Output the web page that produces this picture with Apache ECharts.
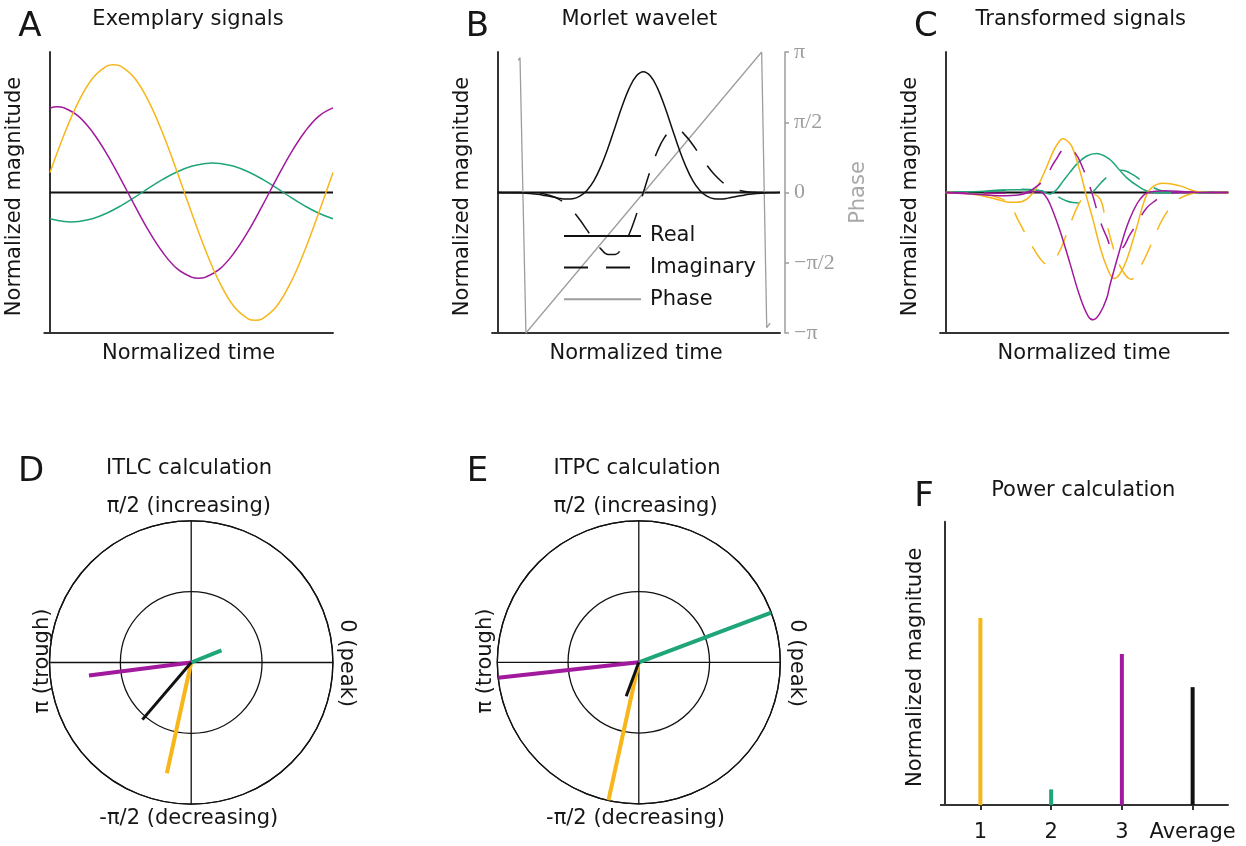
<!DOCTYPE html>
<html>
<head>
<meta charset="utf-8">
<script src="https://cdn.jsdelivr.net/npm/echarts@6/dist/echarts.min.js"></script>
<style>
  html, body { margin: 0; padding: 0; background: #ffffff; }
  #chart { width: 1246px; height: 846px; }
</style>
</head>
<body>
<div id="chart"></div>
<script>
// ---------- Panel A: exemplary signals (normalized time, normalized magnitude) ----------
const aYellow = [[0,0.142],[0.05,0.413],[0.1,0.643],[0.15,0.811],[0.2,0.899],[0.225,0.91],[0.25,0.899],[0.3,0.811],[0.35,0.643],[0.4,0.413],[0.45,0.142],[0.5,-0.142],[0.55,-0.413],[0.6,-0.643],[0.65,-0.811],[0.7,-0.899],[0.725,-0.91],[0.75,-0.899],[0.8,-0.811],[0.85,-0.643],[0.9,-0.413],[0.95,-0.142],[1,0.142]];
const aPurple = [[0,0.602],[0.025,0.61],[0.05,0.602],[0.1,0.544],[0.15,0.431],[0.2,0.277],[0.25,0.095],[0.3,-0.095],[0.35,-0.277],[0.4,-0.431],[0.45,-0.544],[0.5,-0.602],[0.525,-0.61],[0.55,-0.602],[0.6,-0.544],[0.65,-0.431],[0.7,-0.277],[0.75,-0.095],[0.8,0.095],[0.85,0.277],[0.9,0.431],[0.95,0.544],[1,0.602]];
const aGreen = [[0,-0.187],[0.05,-0.207],[0.075,-0.21],[0.1,-0.207],[0.15,-0.187],[0.2,-0.148],[0.25,-0.095],[0.3,-0.033],[0.35,0.033],[0.4,0.095],[0.45,0.148],[0.5,0.187],[0.55,0.207],[0.575,0.21],[0.6,0.207],[0.65,0.187],[0.7,0.148],[0.75,0.095],[0.8,0.033],[0.85,-0.033],[0.9,-0.095],[0.95,-0.148],[1,-0.187]];

// ---------- Panel B: Morlet wavelet ----------
const bReal = [[0,0],[0.016,-0.001],[0.041,-0.001],[0.066,-0.002],[0.091,-0.004],[0.116,-0.008],[0.141,-0.013],[0.166,-0.021],[0.191,-0.03],[0.216,-0.04],[0.241,-0.046],[0.266,-0.044],[0.291,-0.026],[0.316,0.015],[0.341,0.085],[0.366,0.188],[0.391,0.318],[0.416,0.467],[0.441,0.615],[0.466,0.743],[0.491,0.829],[0.516,0.86],[0.541,0.829],[0.566,0.743],[0.591,0.615],[0.616,0.467],[0.641,0.318],[0.666,0.188],[0.691,0.085],[0.716,0.015],[0.741,-0.026],[0.766,-0.044],[0.791,-0.046],[0.816,-0.04],[0.841,-0.03],[0.866,-0.021],[0.891,-0.013],[0.916,-0.008],[0.941,-0.004],[0.966,-0.002],[1,0]];
const bImag = [[0,0],[0.116,-0.001],[0.141,-0.004],[0.166,-0.011],[0.191,-0.025],[0.216,-0.047],[0.241,-0.082],[0.266,-0.131],[0.291,-0.194],[0.316,-0.266],[0.341,-0.34],[0.366,-0.403],[0.391,-0.442],[0.416,-0.441],[0.441,-0.392],[0.466,-0.295],[0.491,-0.159],[0.516,0],[0.541,0.159],[0.566,0.295],[0.591,0.392],[0.616,0.441],[0.641,0.442],[0.666,0.403],[0.691,0.34],[0.716,0.266],[0.741,0.194],[0.766,0.131],[0.791,0.082],[0.816,0.047],[0.841,0.025],[0.866,0.011],[0.891,0.004],[0.916,0.001],[1,0]];
// phase in units of pi
const bPhase = [[0.073,0.941],[0.079,0.96],[0.1,-1],[0.935,1],[0.953,-0.962],[0.965,-0.93]];
const phaseTickLabels = ['\u2212\u03c0', '\u2212\u03c0/2', '0', '\u03c0/2', '\u03c0'];

// ---------- Panel C: transformed signals (solid = real, dashed = imaginary) ----------
const cYellowReal = [[0,0],[0.061,-0.005],[0.121,-0.02],[0.192,-0.055],[0.228,-0.07],[0.251,-0.07],[0.287,-0.047],[0.322,0.035],[0.351,0.153],[0.381,0.294],[0.404,0.37],[0.416,0.382],[0.428,0.37],[0.446,0.33],[0.475,0.153],[0.499,-0.035],[0.522,-0.2],[0.546,-0.388],[0.57,-0.53],[0.596,-0.612],[0.616,-0.58],[0.64,-0.482],[0.676,-0.247],[0.705,-0.047],[0.729,0.035],[0.77,0.066],[0.829,0.047],[0.888,0.007],[0.95,0],[1,0]];
const cYellowImag = [[0,0],[0.121,-0.01],[0.192,-0.04],[0.228,-0.09],[0.257,-0.2],[0.281,-0.29],[0.304,-0.376],[0.334,-0.47],[0.358,-0.51],[0.38,-0.49],[0.41,-0.388],[0.434,-0.259],[0.468,-0.094],[0.494,-0.02],[0.515,-0.01],[0.546,-0.045],[0.564,-0.176],[0.588,-0.36],[0.616,-0.52],[0.656,-0.617],[0.694,-0.51],[0.729,-0.36],[0.77,-0.18],[0.817,-0.06],[0.857,-0.016],[0.9,0],[1,0]];
const cPurpleReal = [[0,0],[0.061,-0.007],[0.121,-0.015],[0.192,-0.023],[0.263,-0.016],[0.309,0.005],[0.334,0.005],[0.351,-0.02],[0.369,-0.082],[0.404,-0.27],[0.44,-0.506],[0.475,-0.741],[0.505,-0.883],[0.522,-0.906],[0.546,-0.859],[0.57,-0.75],[0.581,-0.66],[0.617,-0.4],[0.64,-0.247],[0.664,-0.13],[0.688,-0.047],[0.716,0],[0.776,0.012],[0.847,0.005],[0.9,0],[1,0]];
const cPurpleImag = [[0,0],[0.192,-0.005],[0.281,0],[0.316,0.035],[0.351,0.1],[0.387,0.224],[0.428,0.318],[0.458,0.282],[0.487,0.165],[0.517,0],[0.546,-0.2],[0.57,-0.318],[0.592,-0.4],[0.617,-0.4],[0.652,-0.3],[0.682,-0.2],[0.711,-0.11],[0.741,-0.059],[0.776,-0.015],[0.829,0],[1,0]];
const cGreenReal = [[0,0],[0.121,0.008],[0.192,0.017],[0.257,0.02],[0.309,0.017],[0.345,0.003],[0.369,-0.01],[0.392,0.02],[0.416,0.083],[0.44,0.145],[0.463,0.2],[0.499,0.26],[0.534,0.278],[0.557,0.265],[0.581,0.235],[0.593,0.212],[0.64,0.106],[0.688,0.035],[0.716,0.007],[0.75,-0.002],[0.82,0],[1,0]];
const cGreenImag = [[0,0],[0.121,0.005],[0.192,0.012],[0.274,0.024],[0.323,0.017],[0.369,0],[0.397,-0.03],[0.426,-0.059],[0.45,-0.072],[0.475,-0.075],[0.505,-0.03],[0.528,0.02],[0.55,0.07],[0.575,0.118],[0.598,0.148],[0.623,0.158],[0.664,0.125],[0.695,0.08],[0.723,0.047],[0.764,0.012],[0.811,0],[1,0]];

// horizontal reference at zero magnitude
const zeroLine = [[0,0],[1,0]];

// ---------- Panels D/E: phase vectors (order: signal 1, 2, 3, average) ----------
const itlcAngle = [257.6, 21.8, 187.2, 229.5];
const itlcLength = [0.80, 0.23, 0.727, 0.53];
const itpcAngle = [257.6, 20.6, 186.3, 249.7];
const itpcLength = [1.0, 1.0, 1.0, 0.256];

// ---------- Panel F: power ----------
const powerCategories = ['1', '2', '3', 'Average'];
const powerValues = [0.66, 0.055, 0.533, 0.416];

// ---------- styling ----------
const YELLOW = '#F7B619';
const GREEN = '#1FA57A';
const PURPLE = '#A1199C';
const BLACK = '#111111';
const vectorColors = [YELLOW, GREEN, PURPLE, BLACK];
const vectorWidths = [4, 4, 4, 3];
const FONT = '"DejaVu Sans", "Liberation Sans", sans-serif';
const TXT = '#161616';
const AXIS = '#333333';
const GRAY = '#9d9d9d';
const nameStyle = { fontFamily: FONT, fontSize: 21, color: TXT };

function timeAxis(gridIndex) {
  return {
    type: 'value', gridIndex: gridIndex, min: -0.02, max: 1,
    axisLine: { show: true, onZero: false, lineStyle: { color: AXIS, width: 2 } },
    axisTick: { show: false }, axisLabel: { show: false }, splitLine: { show: false },
    name: 'Normalized time', nameLocation: 'middle', nameGap: 10, nameTextStyle: nameStyle
  };
}
function magnitudeAxis(gridIndex) {
  return {
    type: 'value', gridIndex: gridIndex, min: -1, max: 1,
    axisLine: { show: true, onZero: true, lineStyle: { color: AXIS, width: 2 } },
    axisTick: { show: false }, axisLabel: { show: false }, splitLine: { show: false },
    name: 'Normalized magnitude', nameLocation: 'middle', nameGap: 19, nameRotate: 90,
    nameTextStyle: Object.assign({ padding: [0, 8, 0, 0] }, nameStyle)
  };
}
function curve(data, xi, yi, color, extra) {
  return Object.assign({
    type: 'line', xAxisIndex: xi, yAxisIndex: yi, data: data,
    smooth: 0.4, symbol: 'none', silent: true,
    lineStyle: { color: color, width: 1.5 }
  }, extra || {});
}
function dashed(data, xi, yi, color) {
  return curve(data, xi, yi, color, { lineStyle: { color: color, width: 1.5, type: [22, 16] } });
}

const series = [];
// A
series.push(curve(zeroLine, 0, 0, BLACK, { smooth: false, lineStyle: { color: BLACK, width: 2 } }));
series.push(curve(aGreen, 0, 0, GREEN));
series.push(curve(aPurple, 0, 0, PURPLE));
series.push(curve(aYellow, 0, 0, YELLOW));
// B
series.push(curve(zeroLine, 1, 1, BLACK, { smooth: false, lineStyle: { color: BLACK, width: 2 } }));
series.push(curve(bPhase, 1, 2, GRAY, { name: 'Phase', smooth: false, lineStyle: { color: GRAY, width: 1.3 } }));
series.push(curve(bReal, 1, 1, BLACK, { name: 'Real', lineStyle: { color: BLACK, width: 1.5 } }));
series.push(curve(bImag, 1, 1, BLACK, { name: 'Imaginary', lineStyle: { color: BLACK, width: 1.5, type: [24, 18] } }));
// C
series.push(curve(zeroLine, 2, 3, BLACK, { smooth: false, lineStyle: { color: BLACK, width: 2 } }));
series.push(dashed(cGreenImag, 2, 3, GREEN));
series.push(curve(cGreenReal, 2, 3, GREEN));
series.push(dashed(cYellowImag, 2, 3, YELLOW));
series.push(curve(cYellowReal, 2, 3, YELLOW));
series.push(dashed(cPurpleImag, 2, 3, PURPLE));
series.push(curve(cPurpleReal, 2, 3, PURPLE));
// D and E
[[itlcAngle, itlcLength, 0], [itpcAngle, itpcLength, 1]].forEach(function (set) {
  const angles = set[0], lengths = set[1], pIdx = set[2];
  angles.forEach(function (ang, i) {
    series.push({
      type: 'line', coordinateSystem: 'polar', polarIndex: pIdx, silent: true,
      data: [[0, ang], [lengths[i], ang]], symbol: 'none', z: 3 + (i === 3 ? 1 : 0),
      lineStyle: { color: vectorColors[i], width: vectorWidths[i], cap: 'butt' }
    });
  });
});
// F
series.push({
  type: 'bar', xAxisIndex: 3, yAxisIndex: 4, barWidth: 4, silent: true,
  data: powerValues.map(function (v, i) { return { value: v, itemStyle: { color: vectorColors[i] } }; })
});

function polarAngle(polarIndex) {
  return {
    polarIndex: polarIndex, type: 'value', min: 0, max: 360, interval: 90,
    startAngle: 0, clockwise: false,
    axisLine: { show: true, lineStyle: { color: BLACK, width: 1.3 } },
    axisTick: { show: false }, axisLabel: { show: false },
    splitLine: { show: true, lineStyle: { color: BLACK, width: 1.3 } }
  };
}
function polarRadius(polarIndex) {
  return {
    polarIndex: polarIndex, type: 'value', min: 0, max: 1, interval: 0.5,
    axisLine: { show: false }, axisTick: { show: false }, axisLabel: { show: false },
    splitLine: { show: true, lineStyle: { color: BLACK, width: 1.3 } }
  };
}

// panel titles, panel letters and polar direction labels
const panelTitles = ['Exemplary signals', 'Morlet wavelet', 'Transformed signals', 'ITLC calculation', 'ITPC calculation', 'Power calculation'];
const panelLetters = ['A', 'B', 'C', 'D', 'E', 'F'];
const titlePos = [[188, 20], [639.3, 20], [1080.8, 20], [189, 469], [637, 469], [1083.3, 490.5]];
const letterPos = [[30, 27.5], [477.5, 27.5], [925.8, 27.5], [31, 472], [477.5, 472], [924, 497.5]];
const directionLabels = ['\u03c0/2 (increasing)', '-\u03c0/2 (decreasing)', '\u03c0 (trough)', '0 (peak)'];

const graphics = [];
function addText(text, x, y, size, rotation, color) {
  graphics.push({
    type: 'text', x: x, y: y, rotation: rotation || 0, silent: true,
    style: { text: text, font: size + 'px ' + FONT, fill: color || TXT, align: 'center', verticalAlign: 'middle' }
  });
}
panelTitles.forEach(function (t, i) { addText(t, titlePos[i][0], titlePos[i][1], 21); });
panelLetters.forEach(function (t, i) { addText(t, letterPos[i][0], letterPos[i][1], 34); });
[[188.8, 42.5, 346.7], [635.5, 486, 796]].forEach(function (p) {
  addText(directionLabels[0], p[0], 507, 21);
  addText(directionLabels[1], p[0], 819, 21);
  addText(directionLabels[2], p[1], 661, 21, Math.PI / 2);
  addText(directionLabels[3], p[2], 663, 21, -Math.PI / 2);
});
// left stub of the power-panel baseline
graphics.push({ type: 'line', silent: true, shape: { x1: 940, y1: 805, x2: 946, y2: 805 }, style: { stroke: AXIS, lineWidth: 2 } });

const option = {
  animation: false,
  backgroundColor: '#ffffff',
  grid: [
    { left: 44.34, top: 52, width: 288.66, height: 281 },
    { left: 492.05, top: 52, width: 287.95, height: 281 },
    { left: 940.05, top: 52, width: 288.25, height: 281 },
    { left: 945, top: 521.7, width: 283, height: 283.3 }
  ],
  xAxis: [
    timeAxis(0), timeAxis(1), timeAxis(2),
    {
      type: 'category', gridIndex: 3, data: powerCategories,
      axisLine: { show: true, onZero: false, lineStyle: { color: AXIS, width: 2 } },
      axisTick: { show: true, alignWithLabel: true, interval: 0, length: 5, lineStyle: { color: AXIS, width: 2 } },
      axisLabel: { interval: 0, hideOverlap: false, margin: 17, fontFamily: FONT, fontSize: 21, color: TXT },
      splitLine: { show: false }
    }
  ],
  yAxis: [
    magnitudeAxis(0), magnitudeAxis(1),
    {
      type: 'value', gridIndex: 1, position: 'right', offset: 5, min: -1, max: 1, interval: 0.5,
      axisLine: { show: true, onZero: false, lineStyle: { color: GRAY, width: 1.5 } },
      axisTick: { show: true, length: 4, lineStyle: { color: GRAY, width: 1.5 } },
      axisLabel: {
        show: true, margin: 9, fontFamily: '"Liberation Serif", serif', fontSize: 22, color: GRAY,
        formatter: function (v) { return phaseTickLabels[Math.round((v + 1) * 2)]; }
      },
      splitLine: { show: false },
      name: 'Phase', nameLocation: 'middle', nameGap: 63, nameRotate: 90,
      nameTextStyle: { fontFamily: FONT, fontSize: 21, color: '#a8a8a8' }
    },
    magnitudeAxis(2),
    {
      type: 'value', gridIndex: 3, min: 0, max: 1,
      axisLine: { show: true, lineStyle: { color: AXIS, width: 2 } },
      axisTick: { show: false }, axisLabel: { show: false }, splitLine: { show: false },
      name: 'Normalized magnitude', nameLocation: 'middle', nameGap: 19, nameRotate: 90,
      nameTextStyle: Object.assign({ padding: [0, 8, 0, 0] }, nameStyle)
    }
  ],
  polar: [
    { center: [191.2, 662.5], radius: 141.7 },
    { center: [638.8, 662.3], radius: 141.5 }
  ],
  angleAxis: [polarAngle(0), polarAngle(1)],
  radiusAxis: [polarRadius(0), polarRadius(1)],
  legend: {
    data: ['Real', 'Imaginary', 'Phase'],
    left: 563, top: 225, orient: 'vertical', padding: 0,
    itemWidth: 77, itemHeight: 22, itemGap: 9.6, selectedMode: false,
    itemStyle: { opacity: 0 },
    textStyle: { fontFamily: FONT, fontSize: 21, color: TXT, lineHeight: 22, padding: [0, 0, 0, 4] }
  },
  graphic: graphics,
  series: series
};

const chart = echarts.init(document.getElementById('chart'), null, { renderer: 'canvas', width: 1246, height: 846 });
chart.setOption(option);
</script>
</body>
</html>
